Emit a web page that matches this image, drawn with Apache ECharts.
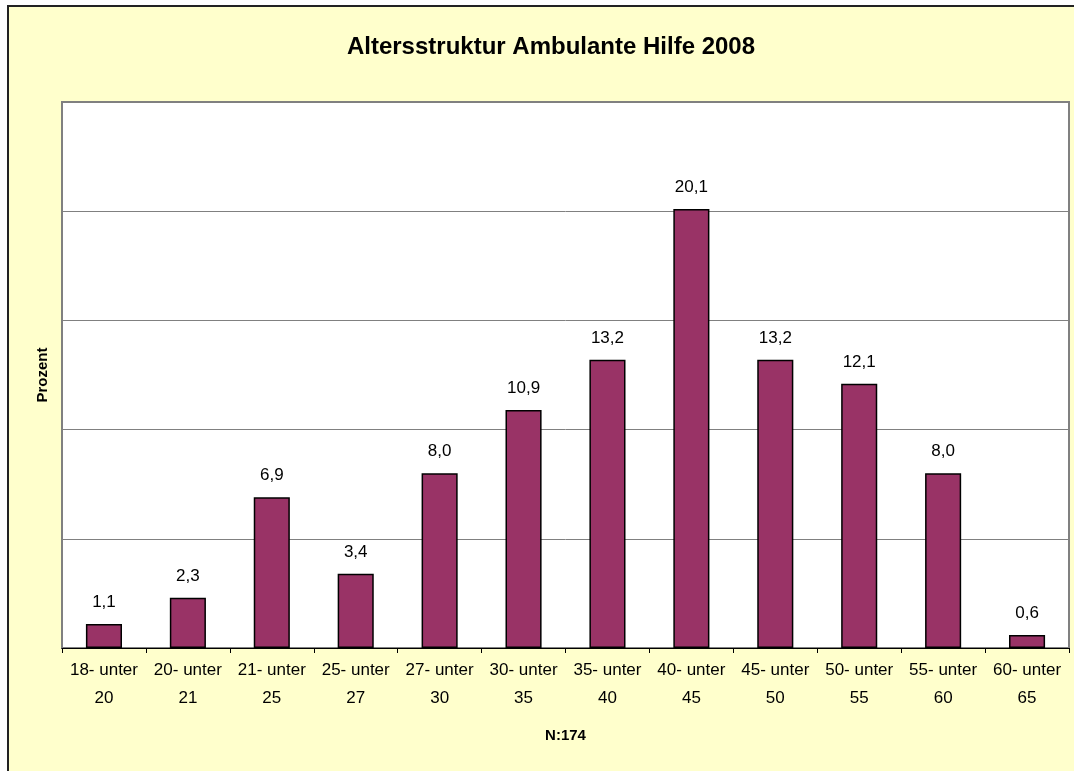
<!DOCTYPE html>
<html lang="de">
<head>
    <meta charset="UTF-8">
    <title>Altersstruktur</title>
    <script src="https://cdn.jsdelivr.net/npm/echarts@6/dist/echarts.min.js"></script>
    <style>
        body { margin: 0; background: #fff; }
        #main { width: 1074px; height: 771px; }
    </style>
</head>
<body>
<div id="main"></div>
<script type="text/javascript">
// Altersgruppen und Anteile in Prozent
let categories = ['18- unter\n20', '20- unter\n21', '21- unter\n25', '25- unter\n27', '27- unter\n30', '30- unter\n35',
    '35- unter\n40', '40- unter\n45', '45- unter\n50', '50- unter\n55', '55- unter\n60', '60- unter\n65'];
let prozent = [1.1, 2.3, 6.9, 3.4, 8.0, 10.9, 13.2, 20.1, 13.2, 12.1, 8.0, 0.6];

let myChart = echarts.init(document.getElementById('main'));
let font = 'Liberation Sans, Arial, sans-serif';

option = {
    backgroundColor: '#fff',
    animation: false,
    graphic: [
        {
            type: 'rect', z: -10,
            shape: { x: 8, y: 6, width: 1080, height: 780 },
            style: { fill: '#FFFFCC', stroke: '#222', lineWidth: 2 }
        },
        {
            type: 'rect', z: -5,
            shape: { x: 62, y: 102, width: 1007, height: 546 },
            style: { fill: '#fff', stroke: '#808080', lineWidth: 2 }
        }
    ],
    title: {
        text: 'Altersstruktur Ambulante Hilfe 2008',
        left: 546, top: 30, textAlign: 'center',
        textStyle: { fontFamily: font, fontSize: 24, fontWeight: 'bold', color: '#000' }
    },
    grid: { left: 62, top: 102, width: 1007, height: 546 },
    xAxis: {
        type: 'category',
        data: categories,
        name: 'N:174',
        nameLocation: 'middle',
        nameGap: 80,
        nameTextStyle: { fontFamily: font, fontSize: 15, fontWeight: 'bold', color: '#000' },
        axisLine: { lineStyle: { color: '#000', width: 1 } },
        axisTick: { show: true, length: 5, lineStyle: { color: '#000' } },
        axisLabel: { fontFamily: font, fontSize: 17, color: '#000', lineHeight: 28, margin: 8, interval: 0 }
    },
    yAxis: {
        type: 'value',
        min: 0, max: 25, interval: 5,
        name: 'Prozent',
        nameLocation: 'middle',
        nameGap: 12,
        nameTextStyle: { fontFamily: font, fontSize: 15, fontWeight: 'bold', color: '#000' },
        axisLine: { show: false },
        axisTick: { show: false },
        axisLabel: { show: false },
        splitLine: { lineStyle: { color: '#808080', width: 1 } }
    },
    series: [{
        type: 'bar',
        data: prozent,
        barWidth: '43%',
        itemStyle: { color: '#993366', borderColor: '#000', borderWidth: 1.5 },
        label: {
            show: true, position: 'top', distance: 13,
            fontFamily: font, fontSize: 17, color: '#000',
            formatter: function (p) { return p.value.toFixed(1).replace('.', ','); }
        }
    }]
};
myChart.setOption(option);
</script>
</body>
</html>
